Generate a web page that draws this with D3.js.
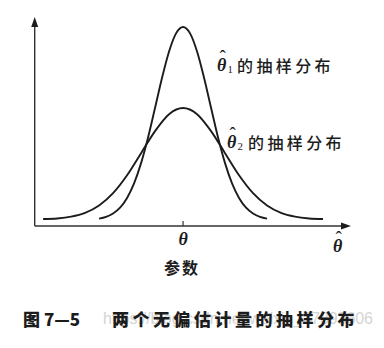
<!DOCTYPE html>
<html>
<head>
<meta charset="utf-8">
<script src="https://cdn.jsdelivr.net/npm/d3@7"></script>
<style>
  body { margin: 0; background: #fff; }
  svg { display: block; }
</style>
</head>
<body>
<div id="chart"></div>
<script>
// points (x in units around theta = 0)
const narrowX = [-3.0, -2.75, -2.5, -2.25, -2.0, -1.75, -1.5, -1.25, -1.0, -0.75, -0.5, -0.25, 0, 0.25, 0.5, 0.75, 1.0, 1.25, 1.5, 1.75, 2.0, 2.25, 2.5, 2.75, 3.0];
const narrowY = [0.037, 0.046, 0.063, 0.092, 0.141, 0.214, 0.316, 0.445, 0.594, 0.745, 0.877, 0.968, 1.0, 0.968, 0.877, 0.745, 0.594, 0.445, 0.316, 0.214, 0.141, 0.092, 0.063, 0.046, 0.037];
const wideX = [-5.0, -4.5, -4.0, -3.5, -3.0, -2.5, -2.0, -1.5, -1.0, -0.5, 0, 0.5, 1.0, 1.5, 2.0, 2.5, 3.0, 3.5, 4.0, 4.5, 5.0];
const wideY = [0.035, 0.038, 0.047, 0.066, 0.103, 0.165, 0.255, 0.366, 0.477, 0.562, 0.593, 0.562, 0.477, 0.366, 0.255, 0.165, 0.103, 0.066, 0.047, 0.038, 0.035];
const labels = ["的抽样分布", "的抽样分布"];
const tickLabel = "θ";
const axisTitle = "参数";
const figNo = "图 7—5";
const figTitle = "两个无偏估计量的抽样分布";

const width = 384, height = 348;
const svg = d3.select("#chart").append("svg")
  .attr("width", width)
  .attr("height", height);

const x = d3.scaleLinear().domain([-5.3, 6.0]).range([34.7, 351]);
const y = d3.scaleLinear().domain([0, 1]).range([226, 27]);

const ink = "#1c1c1c";

// axes
svg.append("line")
  .attr("x1", x(-5.3)).attr("y1", y(0))
  .attr("x2", x(6.0) - 8).attr("y2", y(0))
  .attr("stroke", "#333").attr("stroke-width", 1.4);
svg.append("line")
  .attr("x1", x(-5.3)).attr("y1", y(0))
  .attr("x2", x(-5.3)).attr("y2", 26)
  .attr("stroke", "#333").attr("stroke-width", 1.4);
svg.append("path")
  .attr("d", `M${x(6.0)},${y(0)} L${x(6.0) - 10},${y(0) - 3.5} L${x(6.0) - 10},${y(0) + 3.5} Z`)
  .attr("fill", ink);
svg.append("path")
  .attr("d", `M${x(-5.3)},17 L${x(-5.3) - 3.5},27 L${x(-5.3) + 3.5},27 Z`)
  .attr("fill", ink);

// tick at theta
svg.append("line")
  .attr("x1", x(0)).attr("x2", x(0))
  .attr("y1", y(0) - 5).attr("y2", y(0))
  .attr("stroke", "#333").attr("stroke-width", 1.2);

const line = d3.line()
  .x(d => x(d[0]))
  .y(d => y(d[1]))
  .curve(d3.curveMonotoneX);

svg.append("path")
  .datum(d3.zip(wideX, wideY))
  .attr("d", line)
  .attr("fill", "none")
  .attr("stroke", ink)
  .attr("stroke-width", 1.9);

svg.append("path")
  .datum(d3.zip(narrowX, narrowY))
  .attr("d", line)
  .attr("fill", "none")
  .attr("stroke", ink)
  .attr("stroke-width", 1.9);

const serif = "'Liberation Serif', 'DejaVu Serif', serif";
const cjk = "'Noto Sans CJK SC', sans-serif";

// theta with a hat (and optional subscript)
function thetaHat(px, py, sub, size) {
  const g = svg.append("g");
  g.append("text")
    .attr("x", px).attr("y", py)
    .attr("font-family", serif)
    .attr("font-style", "italic")
    .attr("font-weight", "bold")
    .attr("font-size", size)
    .attr("fill", ink)
    .text("θ");
  g.append("text")
    .attr("x", px + size * 0.14).attr("y", py - size * 0.42)
    .attr("font-family", serif)
    .attr("font-size", size * 1.05)
    .attr("fill", ink)
    .text("ˆ");
  if (sub) {
    g.append("text")
      .attr("x", px + size * 0.58).attr("y", py + 2)
      .attr("font-family", serif)
      .attr("font-size", size * 0.6)
      .attr("fill", ink)
      .text(sub);
  }
}

// curve labels
thetaHat(217, 71, "1", 18);
svg.append("text")
  .attr("x", 237).attr("y", 72)
  .attr("font-family", cjk).attr("font-size", 16)
  .attr("font-weight", 500)
  .attr("letter-spacing", 3.4)
  .attr("fill", ink)
  .text(labels[0]);

thetaHat(227, 148, "2", 18);
svg.append("text")
  .attr("x", 248).attr("y", 149)
  .attr("font-family", cjk).attr("font-size", 16)
  .attr("font-weight", 500)
  .attr("letter-spacing", 3.4)
  .attr("fill", ink)
  .text(labels[1]);

// axis labels
svg.append("text")
  .attr("x", x(0)).attr("y", 245)
  .attr("text-anchor", "middle")
  .attr("font-family", serif)
  .attr("font-style", "italic")
  .attr("font-weight", "bold")
  .attr("font-size", 18)
  .attr("fill", ink)
  .text(tickLabel);
thetaHat(333, 252, null, 18);

svg.append("text")
  .attr("x", x(0) - 1).attr("y", 274)
  .attr("text-anchor", "middle")
  .attr("font-family", cjk).attr("font-size", 16)
  .attr("font-weight", "bold")
  .attr("letter-spacing", 2)
  .attr("fill", ink)
  .text(axisTitle);

// watermark
svg.append("text")
  .attr("x", 103).attr("y", 324)
  .attr("font-family", "'Liberation Sans', Arial, sans-serif")
  .attr("font-size", 16)
  .attr("textLength", 270)
  .attr("fill", "#d4d4d4")
  .text("https://blog.csdn.net/weixin_37393606");

// figure caption
svg.append("text")
  .attr("x", 23).attr("y", 326)
  .attr("font-family", cjk).attr("font-size", 17)
  .attr("font-weight", 900)
  .attr("fill", ink)
  .text(figNo);
svg.append("text")
  .attr("x", 112).attr("y", 326)
  .attr("font-family", cjk).attr("font-size", 17)
  .attr("font-weight", 900)
  .attr("letter-spacing", 3.5)
  .attr("fill", ink)
  .text(figTitle);
</script>
</body>
</html>
